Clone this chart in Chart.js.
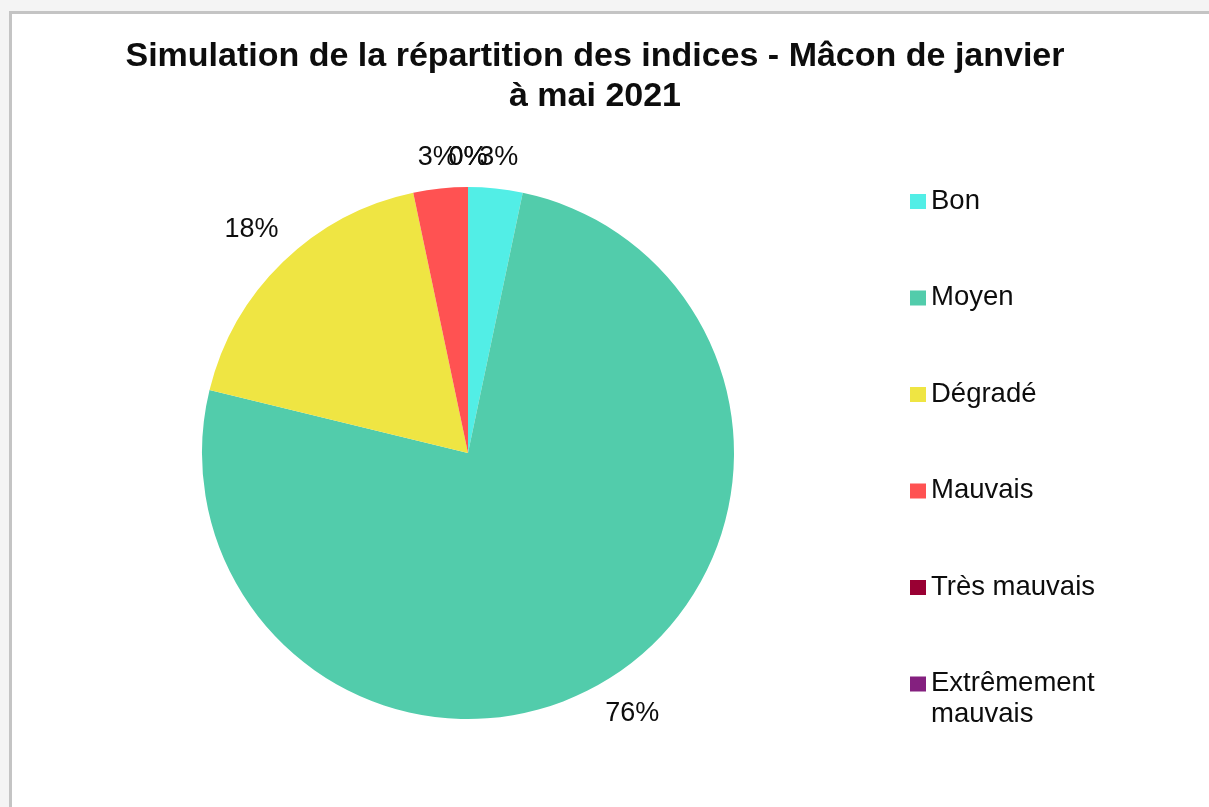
<!DOCTYPE html>
<html lang="fr">
<head>
<meta charset="utf-8">
<title>Simulation de la répartition des indices - Mâcon</title>
<script src="https://cdn.jsdelivr.net/npm/chart.js@4/dist/chart.umd.min.js"></script>
<style>
    html, body { margin: 0; padding: 0; }
    body {
        width: 1209px;
        height: 807px;
        overflow: hidden;
        position: relative;
        background: #f4f4f4;
    }
    .frame {
        position: absolute;
        left: 9px;
        top: 11px;
        width: 1300px;
        height: 900px;
        background: #fff;
        border: 3px solid #c4c4c4;
    }
    #chart { position: absolute; left: 0; top: 0; }
</style>
</head>
<body>
<div class="frame"></div>
<canvas id="chart" width="1209" height="807"></canvas>
<script>
const titleLines = ['Simulation de la répartition des indices - Mâcon de janvier', 'à mai 2021'];
const categories = ['Bon', 'Moyen', 'Dégradé', 'Mauvais', 'Très mauvais', 'Extrêmement mauvais'];
const legendLines = [['Bon'], ['Moyen'], ['Dégradé'], ['Mauvais'], ['Très mauvais'], ['Extrêmement', 'mauvais']];
const shares = [3.3, 75.5, 17.9, 3.3, 0, 0];
const colors = ['#52EEE6', '#52CCAB', '#EFE543', '#FF5252', '#990033', '#84207F'];

const FONT = '"Liberation Sans", Arial, sans-serif';
const TEXT_COLOR = '#0d0d0d';

// title, drawn centred over the whole frame (not only the pie area)
const titleBlock = {
    id: 'titleBlock',
    afterDraw(chart) {
        const ctx = chart.ctx;
        ctx.save();
        ctx.font = 'bold 34px ' + FONT;
        ctx.fillStyle = TEXT_COLOR;
        ctx.textAlign = 'center';
        ctx.textBaseline = 'alphabetic';
        titleLines.forEach((line, i) => ctx.fillText(line, 595, 66 + i * 40));
        ctx.restore();
    }
};

// percentage labels outside the slices, pushed out until the box clears the pie
const pieLabels = {
    id: 'pieLabels',
    afterDatasetsDraw(chart) {
        const ctx = chart.ctx;
        const meta = chart.getDatasetMeta(0);
        const total = shares.reduce((a, b) => a + b, 0);
        const gap = 17;
        const h = 24;
        ctx.save();
        ctx.font = '27px ' + FONT;
        ctx.fillStyle = TEXT_COLOR;
        ctx.textAlign = 'center';
        ctx.textBaseline = 'middle';
        meta.data.forEach((arc, i) => {
            const p = arc.getProps(['x', 'y', 'startAngle', 'endAngle', 'outerRadius'], true);
            const mid = (p.startAngle + p.endAngle) / 2;
            const dx = Math.cos(mid);
            const dy = Math.sin(mid);
            const text = Math.round(shares[i] / total * 100) + '%';
            const w = ctx.measureText(text).width;
            let t = p.outerRadius;
            while (t < p.outerRadius + 200) {
                const cx = dx * t;
                const cy = dy * t;
                const ex = Math.max(Math.abs(cx) - w / 2, 0);
                const ey = Math.max(Math.abs(cy) - h / 2, 0);
                if (Math.hypot(ex, ey) >= p.outerRadius + gap) break;
                t += 1;
            }
            ctx.fillText(text, p.x + dx * t, p.y + dy * t);
        });
        ctx.restore();
    }
};

// legend on the right, with the long label wrapped on two lines
const sideLegend = {
    id: 'sideLegend',
    afterDraw(chart) {
        const ctx = chart.ctx;
        ctx.save();
        ctx.font = '27.5px ' + FONT;
        ctx.textAlign = 'left';
        ctx.textBaseline = 'middle';
        legendLines.forEach((lines, i) => {
            const y = 201 + i * 96.5;
            ctx.fillStyle = colors[i];
            ctx.fillRect(910, y - 7, 16, 15);
            ctx.fillStyle = TEXT_COLOR;
            lines.forEach((txt, j) => ctx.fillText(txt, 931, y + j * 31));
        });
        ctx.restore();
    }
};

const ctx = document.getElementById('chart').getContext('2d');
new Chart(ctx, {
    type: 'pie',
    data: {
        labels: categories,
        datasets: [{
            data: shares,
            backgroundColor: colors,
            borderWidth: 0
        }]
    },
    options: {
        responsive: false,
        animation: false,
        layout: {
            padding: { top: 187, bottom: 88, left: 202, right: 475 }
        },
        plugins: {
            legend: { display: false },
            title: { display: false },
            tooltip: { enabled: false }
        }
    },
    plugins: [titleBlock, pieLabels, sideLegend]
});
</script>
</body>
</html>
